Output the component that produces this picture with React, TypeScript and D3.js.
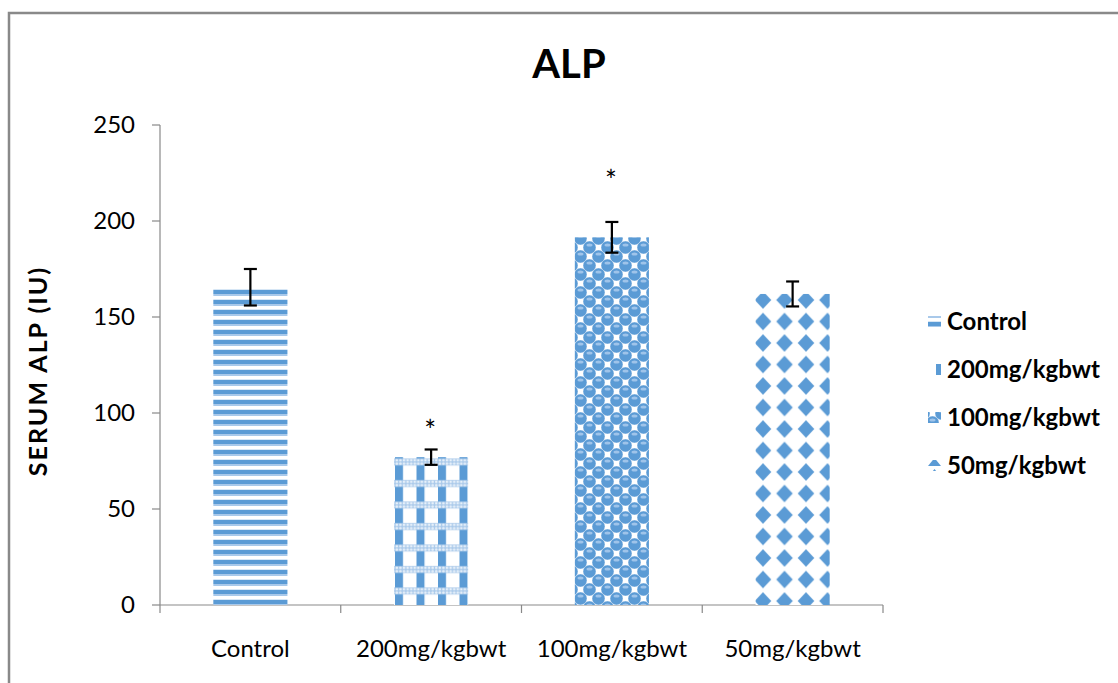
import React from "react";
import * as d3 from "d3";

const categories = ["Control", "200mg/kgbwt", "100mg/kgbwt", "50mg/kgbwt"];
const values = [165.5, 77, 191.5, 162];
const errors = [9.5, 4, 8, 6.5];
const starLevels = [null, 94, 224, null];
const yTicks = [0, 50, 100, 150, 200, 250];
const title = "ALP";
const yLabel = "SERUM ALP (IU)";

const W = 1118;
const H = 683;
const M = { left: 160, right: 883, top: 125, bottom: 605 };
const BLUE = "#5b9bd5";
const LIGHT = "#a9c9ea";
const FONT = "Lato, 'Open Sans', sans-serif";
const patIds = ["pCtrl", "p200", "p100", "p50"];

export default function App() {
  const x = d3.scaleBand().domain(categories).range([M.left, M.right]).paddingInner(0.59).paddingOuter(0.295);
  const xOuter = d3.scaleBand().domain(categories).range([M.left, M.right]);
  const y = d3.scaleLinear().domain([0, 250]).range([M.bottom, M.top]);

  return (
    <svg width={W} height={H} style={{ position: "absolute", left: 0, top: 0, background: "#fff" }} fontFamily={FONT}>
      <defs>
        <pattern id="pCtrl" width={10} height={10} patternUnits="userSpaceOnUse">
          <rect width={10} height={10} fill="#fff" />
          <rect y={0} width={10} height={4} fill={BLUE} />
          <rect y={4} width={10} height={2} fill={LIGHT} />
          <rect y={9} width={10} height={1} fill="#d6e6f5" />
        </pattern>
        <pattern id="p200" width={21.5} height={21.5} patternUnits="userSpaceOnUse" x={395}>
          <rect width={21.5} height={21.5} fill="#fff" />
          <rect x={0} y={0} width={8} height={21.5} fill={BLUE} />
          <rect x={0} y={7} width={21.5} height={7} fill={LIGHT} />
          {[1.8, 5.4, 9, 12.6, 16.2, 19.8].map((cx) => (
            <React.Fragment key={cx}>
              <circle cx={cx} cy={8.8} r={1.3} fill="#e8f1fa" />
              <circle cx={cx} cy={12.2} r={1.3} fill="#e8f1fa" />
            </React.Fragment>
          ))}
        </pattern>
        <pattern id="p100" width={18} height={18} patternUnits="userSpaceOnUse">
          <rect width={18} height={18} fill="#fff" />
          <rect width={18} height={18} fill={LIGHT} opacity={0.35} />
          {[[4.5, 4.5], [13.5, 13.5], [13.5, -4.5], [-4.5, 13.5], [22.5, 4.5], [4.5, 22.5]].map(([cx, cy], i) => (
            <React.Fragment key={i}>
              <circle cx={cx} cy={cy} r={6.2} fill={BLUE} />
              <ellipse cx={cx} cy={cy - 2.5} rx={3} ry={1.6} fill="#9fc4ea" />
            </React.Fragment>
          ))}
          <rect x={11} y={2} width={5} height={5} fill="#fff" />
          <rect x={2} y={11} width={5} height={5} fill="#fff" />
        </pattern>
        <pattern id="p50" width={21.5} height={21.5} patternUnits="userSpaceOnUse" x={763 - 10.75} y={300 - 10.75}>
          <rect width={21.5} height={21.5} fill="#fff" />
          <path d="M10.75,2 L19,10.75 L10.75,19.5 L2.5,10.75 Z" fill={BLUE} />
        </pattern>
        <pattern id="lg50" width={13} height={11} patternUnits="userSpaceOnUse">
          <rect width={13} height={11} fill="#fff" />
          <path d="M6.5,3 L13,11 L0,11 Z" fill={BLUE} />
        </pattern>
      </defs>

      {/* chart frame */}
      <rect x={9} y={13} width={W + 20} height={H + 20} fill="none" stroke="#898989" strokeWidth={2.5} />

      {/* title */}
      <text x={569} y={78} textAnchor="middle" fontSize={40} fontWeight="bold" fill="#000">{title}</text>

      {/* y axis */}
      <line x1={M.left} x2={M.left} y1={M.top} y2={M.bottom} stroke="#898989" strokeWidth={1.2} />
      {yTicks.map((t) => (
        <g key={t}>
          <line x1={M.left - 8} x2={M.left} y1={y(t)} y2={y(t)} stroke="#898989" strokeWidth={1.2} />
          <text x={M.left - 25} y={y(t)} dy="0.35em" textAnchor="end" fontSize={24} fill="#000">{t}</text>
        </g>
      ))}
      <text transform={`translate(47,${(M.top + M.bottom) / 2 + 6}) rotate(-90)`} textAnchor="middle" fontSize={25} letterSpacing={2} fontWeight="bold" fill="#000">{yLabel}</text>

      {/* x axis */}
      <line x1={M.left} x2={M.right} y1={M.bottom} y2={M.bottom} stroke="#898989" strokeWidth={1.2} />
      {[...categories.map((c) => xOuter(c)!), M.right].map((px, i) => (
        <line key={i} x1={px} x2={px} y1={M.bottom} y2={M.bottom + 8} stroke="#898989" strokeWidth={1.2} />
      ))}
      {categories.map((c) => (
        <text key={c} x={xOuter(c)! + xOuter.bandwidth() / 2} y={657} textAnchor="middle" fontSize={24} fill="#000">{c}</text>
      ))}

      {/* bars */}
      {categories.map((c, i) => (
        <rect key={c} x={x(c)} y={y(values[i])} width={x.bandwidth()} height={y(0) - y(values[i])} fill={`url(#${patIds[i]})`} />
      ))}

      {/* error bars */}
      {categories.map((c, i) => {
        const cx = x(c)! + x.bandwidth() / 2;
        const top = y(values[i] + errors[i]);
        const bot = y(values[i] - errors[i]);
        return (
          <g key={c} stroke="#000" strokeWidth={2.2}>
            <line x1={cx} x2={cx} y1={top} y2={bot} />
            <line x1={cx - 6.5} x2={cx + 6.5} y1={top} y2={top} />
            <line x1={cx - 6.5} x2={cx + 6.5} y1={bot} y2={bot} />
          </g>
        );
      })}

      {/* significance */}
      {categories.map((c, i) =>
        starLevels[i] != null ? (
          <text key={c} x={x(c)! + x.bandwidth() / 2 - 1} y={y(starLevels[i] as number) + 16} textAnchor="middle" fontSize={28} fill="#000">*</text>
        ) : null
      )}

      {/* legend */}
      {categories.map((c, i) => (
        <g key={c} transform={`translate(928,${322 + i * 48})`}>
          <rect x={0} y={-6} width={13} height={11} fill={i === 3 ? "url(#lg50)" : `url(#${patIds[i]})`} />
          <text x={19} y={0} dy="0.35em" fontSize={24} fontWeight="bold" fill="#000">{c}</text>
        </g>
      ))}
    </svg>
  );
}
